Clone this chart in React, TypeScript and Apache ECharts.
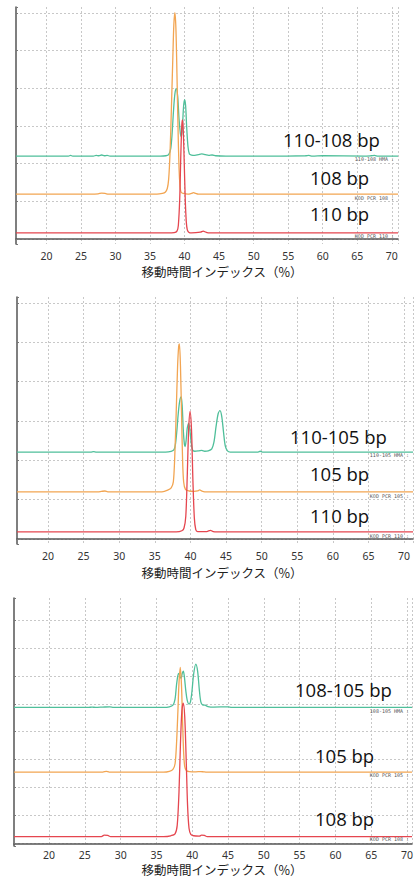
import React, { useEffect, useRef } from "react";
import * as echarts from "echarts";

const axisTitle = "移動時間インデックス（%）";

// ---------- Panel 1 : 110-108 bp ----------
const p1Labels = ["110-108 bp", "108 bp", "110 bp"];
const p1Tags = ["110-108 HMA :", "KOD PCR 108 :", "KOD PCR 110 :"];
const p1Baselines = [2.2, 1.19, 0.16];
const p1Green: number[][] = [
  [15.6, 0], [20, 0], [23.2, 0], [23.5, 0.02], [23.8, 0], [26.8, 0], [27.2, 0.02], [27.6, 0.01], [28.0, 0.03],
  [28.4, 0.01], [28.8, 0.02], [29.2, 0], [36.5, 0], [37.3, 0.01], [37.7, 0.04], [38.0, 0.2], [38.2, 0.6],
  [38.4, 1.2], [38.6, 1.65], [38.8, 1.79], [39.0, 1.6], [39.2, 1.0], [39.4, 0.6], [39.55, 0.52], [39.7, 0.8],
  [39.85, 1.3], [40.0, 1.5], [40.15, 1.35], [40.3, 0.8], [40.5, 0.25], [40.7, 0.06], [41.0, 0.03], [41.5, 0.02],
  [42.0, 0.04], [42.5, 0.06], [43.0, 0.04], [43.5, 0.02], [44, 0.03], [44.5, 0.01], [46, 0], [52, 0],
  [57.5, 0.01], [58, 0.02], [58.5, 0], [60, 0.01], [66, 0], [67, 0.01], [67.5, 0.02], [68, 0], [70.9, 0],
];
const p1Orange: number[][] = [
  [15.6, 0], [26.5, 0], [27.5, 0.01], [28, 0.03], [28.5, 0.02], [29, 0], [36, 0], [36.8, 0.02], [37.2, 0.05],
  [37.5, 0.15], [37.7, 0.4], [37.9, 1.1], [38.1, 2.3], [38.3, 3.6], [38.45, 4.5], [38.6, 4.82], [38.75, 4.4],
  [38.9, 3.2], [39.05, 1.8], [39.2, 0.7], [39.35, 0.2], [39.5, 0.05], [39.8, 0.02], [40.5, 0], [41, 0.02],
  [41.3, 0.04], [41.6, 0.02], [42, 0], [70.9, 0],
];
const p1Red: number[][] = [
  [15.6, 0], [37.5, 0], [38.5, 0.01], [38.9, 0.05], [39.1, 0.2], [39.3, 0.9], [39.45, 2.0], [39.6, 2.85],
  [39.7, 3.0], [39.8, 2.8], [39.95, 1.9], [40.1, 0.9], [40.25, 0.3], [40.4, 0.08], [40.6, 0.02], [41, 0],
  [42.3, 0.02], [42.7, 0.05], [43.1, 0.02], [43.6, 0], [70.9, 0],
];

// ---------- Panel 2 : 110-105 bp ----------
const p2Labels = ["110-105 bp", "105 bp", "110 bp"];
const p2Tags = ["110-105 HMA :", "KOD PCR 105 :", "KOD PCR 110 :"];
const p2Baselines = [2.21, 1.2, 0.18];
const p2Green: number[][] = [
  [15.65, 0], [26, 0], [26.4, 0.01], [26.8, 0], [36.5, 0], [37.3, 0.02], [37.7, 0.06], [37.9, 0.2], [38.1, 0.55],
  [38.3, 1.0], [38.5, 1.3], [38.7, 1.4], [38.85, 1.15], [39.0, 0.55], [39.15, 0.2], [39.25, 0.14], [39.4, 0.3],
  [39.55, 0.6], [39.75, 0.73], [39.9, 0.6], [40.1, 0.25], [40.3, 0.05], [40.6, 0.02], [41.2, 0.03], [41.6, 0.04],
  [42, 0.02], [42.5, 0.03], [43, 0.08], [43.3, 0.25], [43.6, 0.65], [43.9, 0.98], [44.15, 1.05], [44.4, 0.9],
  [44.65, 0.5], [44.9, 0.15], [45.2, 0.03], [45.6, 0], [49.5, 0], [49.8, 0.02], [50.1, 0], [71.25, 0],
];
const p2Orange: number[][] = [
  [15.65, 0], [27, 0], [27.5, 0.01], [28, 0.02], [28.4, 0], [36, 0], [36.8, 0.04], [37.3, 0.1], [37.6, 0.25],
  [37.8, 0.9], [38.0, 2.0], [38.2, 3.2], [38.35, 3.7], [38.45, 3.76], [38.6, 3.2], [38.75, 2.0], [38.9, 0.8],
  [39.05, 0.25], [39.3, 0.06], [39.8, 0.02], [40.5, 0.01], [41, 0.02], [41.3, 0.05], [41.6, 0.02], [42, 0],
  [71.25, 0],
];
const p2Red: number[][] = [
  [15.65, 0], [38, 0], [38.8, 0.03], [39.1, 0.1], [39.35, 0.4], [39.55, 1.4], [39.75, 2.6], [39.95, 3.06],
  [40.15, 2.6], [40.35, 1.3], [40.55, 0.35], [40.75, 0.06], [41, 0.01], [42.3, 0.01], [42.8, 0.04], [43.2, 0.01],
  [43.7, 0], [71.25, 0],
];

// ---------- Panel 3 : 108-105 bp ----------
const p3Labels = ["108-105 bp", "105 bp", "108 bp"];
const p3Tags = ["108-105 HMA :", "KOD PCR 105 :", "KOD PCR 108 :"];
const p3Baselines = [4.87, 2.55, 0.24];
const p3Green: number[][] = [
  [15.1, 0], [25.5, 0], [26, 0.01], [26.5, 0], [27.5, 0.01], [28.5, 0.02], [29, 0], [36, 0], [36.8, 0.02],
  [37.3, 0.08], [37.6, 0.3], [37.8, 0.8], [38.0, 1.15], [38.15, 1.22], [38.3, 1.1], [38.45, 1.04], [38.6, 1.22],
  [38.75, 1.3], [38.9, 1.1], [39.1, 0.6], [39.3, 0.25], [39.55, 0.12], [39.75, 0.2], [39.95, 0.55], [40.2, 1.2],
  [40.5, 1.55], [40.75, 1.3], [41.0, 0.6], [41.2, 0.2], [41.45, 0.09], [41.8, 0.08], [42.2, 0.03], [43, 0.01],
  [45, 0.02], [45.5, 0], [70.7, 0],
];
const p3Orange: number[][] = [
  [15.1, 0], [27.5, 0], [28, 0.03], [28.4, 0], [36, 0], [36.8, 0.03], [37.3, 0.1], [37.6, 0.3], [37.8, 1.0],
  [38.0, 2.2], [38.15, 3.2], [38.33, 3.75], [38.5, 3.1], [38.65, 1.8], [38.8, 0.7], [38.95, 0.2], [39.2, 0.05],
  [39.6, 0.02], [40.5, 0.01], [41.2, 0.02], [41.6, 0.01], [42, 0], [70.7, 0],
];
const p3Red: number[][] = [
  [15.1, 0], [27.3, 0], [27.7, 0.05], [28.2, 0.04], [28.6, 0], [36, 0], [37, 0.03], [37.6, 0.1], [37.9, 0.4],
  [38.15, 1.6], [38.35, 3.3], [38.55, 4.5], [38.75, 4.78], [38.95, 4.3], [39.15, 2.8], [39.35, 1.1], [39.55, 0.3],
  [39.8, 0.08], [40.2, 0.03], [41, 0.02], [41.3, 0.05], [41.7, 0.04], [42.1, 0], [70.7, 0],
];

const COLORS = ["#4fbf9a", "#f2a552", "#e5464f"];

type Panel = {
  left: number; top: number; width: number; height: number;
  xMin: number; xMax: number; yMin: number; yMax: number;
  traces: number[][][]; baselines: number[]; labels: string[]; tags: string[];
  labelPos: number[][]; tagPos: number[][]; titleY: number; tickMargin: number;
};

const panels: Panel[] = [
  {
    left: 16, top: 7, width: 382, height: 237, xMin: 15.6, xMax: 70.9, yMin: -0.133, yMax: 6.16,
    traces: [p1Green, p1Orange, p1Red], baselines: p1Baselines, labels: p1Labels, tags: p1Tags,
    labelPos: [[283, 139], [310, 177], [310, 213]], tagPos: [[394, 159], [394, 198], [394, 236]],
    titleY: 271, tickMargin: 6,
  },
  {
    left: 17, top: 297, width: 396, height: 247, xMin: 15.65, xMax: 71.25, yMin: -0.127, yMax: 6.15,
    traces: [p2Green, p2Orange, p2Red], baselines: p2Baselines, labels: p2Labels, tags: p2Tags,
    labelPos: [[290, 436], [310, 473], [310, 515]], tagPos: [[409, 455], [409, 496], [409, 536]],
    titleY: 572, tickMargin: 6,
  },
  {
    left: 14, top: 598, width: 398, height: 248, xMin: 15.1, xMax: 70.7, yMin: -0.097, yMax: 8.79,
    traces: [p3Green, p3Orange, p3Red], baselines: p3Baselines, labels: p3Labels, tags: p3Tags,
    labelPos: [[295, 689], [315, 755], [315, 818]], tagPos: [[409, 711], [409, 775], [409, 839]],
    titleY: 869.5, tickMargin: 3,
  },
];

export default function App() {
  const ref = useRef<HTMLDivElement>(null);
  useEffect(() => {
    if (!ref.current) return;
    const chart = echarts.init(ref.current, undefined, { renderer: "svg" });
    const grid: any[] = [];
    const xAxis: any[] = [];
    const yAxis: any[] = [];
    const series: any[] = [];
    const graphic: any[] = [];
    const dotted = { show: true, lineStyle: { color: "#c8c8c8", type: [2, 2], width: 1 } };
    panels.forEach((p, i) => {
      grid.push({ left: p.left, top: p.top, width: p.width, height: p.height, containLabel: false });
      xAxis.push({
        type: "value", gridIndex: i, min: p.xMin, max: p.xMax, minInterval: 5, maxInterval: 5,
        axisLine: { show: true, lineStyle: { color: "#555", width: 1.5 } },
        axisTick: { show: false },
        axisLabel: {
          showMinLabel: false, showMaxLabel: false, color: "#333", fontSize: 10.5, lineHeight: 11,
          margin: p.tickMargin, fontFamily: "Noto Sans",
        },
        splitLine: { ...dotted, showMinLine: false },
      });
      yAxis.push({
        type: "value", gridIndex: i, min: p.yMin, max: p.yMax, minInterval: 1, maxInterval: 1,
        axisLine: { show: true, lineStyle: { color: "#555", width: 1.5 } },
        axisTick: { show: true, inside: true, length: 2, lineStyle: { color: "#777" } },
        axisLabel: { show: false },
        splitLine: { ...dotted, showMinLine: false, showMaxLine: false },
      });
      p.traces.forEach((tr, k) => {
        series.push({
          type: "line", xAxisIndex: i, yAxisIndex: i, symbol: "none", smooth: 0.3, silent: true,
          data: tr.map(([x, s]) => [x, p.baselines[k] + s]),
          lineStyle: { color: COLORS[k], width: 1.3 }, z: 2 + k,
        });
      });
      p.labels.forEach((t, k) => {
        graphic.push({
          type: "text", x: p.labelPos[k][0], y: p.labelPos[k][1], z: 10,
          style: { text: t, fill: "#111", font: '18.5px "Open Sans"', textAlign: "left", textVerticalAlign: "middle" },
        });
      });
      p.tags.forEach((t, k) => {
        graphic.push({
          type: "text", x: p.tagPos[k][0], y: p.tagPos[k][1], z: 10,
          style: { text: t, fill: "#555", font: '5px "DejaVu Sans Mono"', textAlign: "right", textVerticalAlign: "middle" },
        });
      });
      graphic.push({
        type: "text", x: 222, y: p.titleY, z: 10,
        style: {
          text: axisTitle, fill: "#222", font: '12.5px "Noto Sans CJK JP"', lineHeight: 12,
          textAlign: "center", textVerticalAlign: "middle",
        },
      });
    });
    chart.setOption({ animation: false, backgroundColor: "#fff", grid, xAxis, yAxis, series, graphic });
    return () => chart.dispose();
  }, []);
  return <div ref={ref} style={{ position: "absolute", left: 0, top: 0, width: 417, height: 879 }} />;
}
